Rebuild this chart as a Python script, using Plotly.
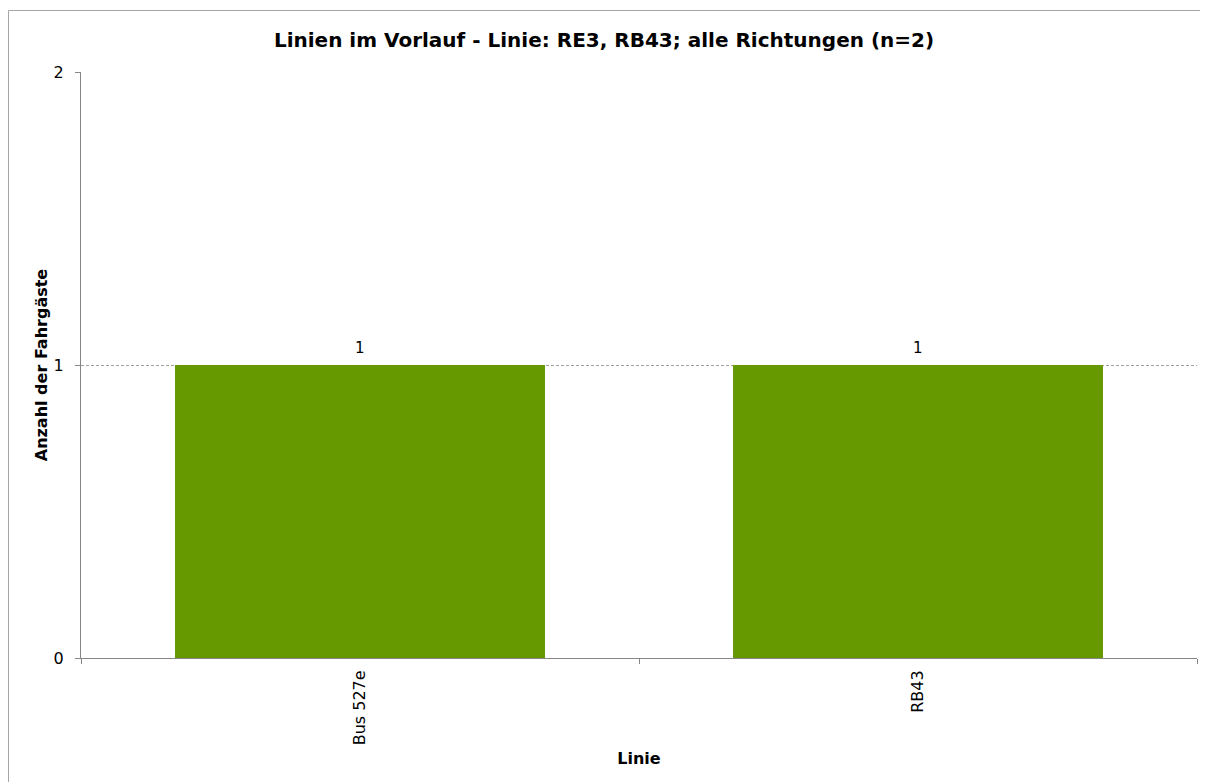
import plotly.graph_objects as go

categories = ["Bus 527e", "RB43"]
values = [1, 1]
title_text = "Linien im Vorlauf - Linie: RE3, RB43; alle Richtungen (n=2)"

# The page body adds an 8px offset, so the figure is 8px smaller than the window
W, H = 1200, 774
L, R, T, B = 73, 11, 64, 124
pw, ph = W - L - R, H - T - B

def px_x(x):
    return (x - L) / pw

def px_y(y):
    return (H - B - y) / ph

fig = go.Figure()
fig.add_trace(go.Bar(
    x=categories, y=values,
    marker=dict(color="#669900", line=dict(width=0)),
    width=0.663,
))

for c, v in zip(categories, values):
    fig.add_annotation(x=c, y=v, text=str(v), showarrow=False,
                       yanchor="bottom", yshift=6,
                       font=dict(family="DejaVu Sans", size=15, color="#000000"))

border = dict(color="#a6a6a6", width=1)
fig.update_layout(
    width=W, height=H,
    margin=dict(l=L, r=R, t=T, b=B),
    paper_bgcolor="white", plot_bgcolor="white",
    font=dict(family="DejaVu Sans", size=16, color="#000000"),
    title=dict(text="<b>" + title_text + "</b>", x=px_x(596), xref="paper", xanchor="center",
               y=1 - 32 / H, yanchor="middle",
               font=dict(family="DejaVu Sans", size=20, color="#000000")),
    showlegend=False,
    shapes=[
        dict(type="line", xref="paper", yref="paper",
             x0=px_x(0.5), x1=px_x(0.5), y0=px_y(H), y1=px_y(2.5),
             line=border, layer="below"),
        dict(type="line", xref="paper", yref="paper",
             x0=px_x(0.5), x1=px_x(W), y0=px_y(2.5), y1=px_y(2.5),
             line=border, layer="below"),
    ],
)

fig.update_xaxes(
    title=dict(text="<b>Linie</b>", font=dict(size=16), standoff=8),
    tickangle=-90, tickson="boundaries",
    ticks="outside", ticklen=5, tickcolor="#868686",
    ticklabelstandoff=5,
    showline=True, linecolor="#868686", linewidth=1,
    showgrid=False,
    tickfont=dict(size=16),
)
fig.update_yaxes(
    title=dict(text="<b>Anzahl der Fahrgäste</b>", font=dict(size=16), standoff=2),
    range=[0, 2], tickvals=[0, 1, 2], ticktext=["0", "1", "2"],
    ticks="outside", ticklen=5, tickcolor="#868686",
    ticklabelstandoff=8,
    showline=True, linecolor="#868686", linewidth=1,
    showgrid=True, gridcolor="#a0a0a0", griddash="3px,2px", gridwidth=1,
    zeroline=False,
    tickfont=dict(size=16),
)

fig.write_html("out.html")
